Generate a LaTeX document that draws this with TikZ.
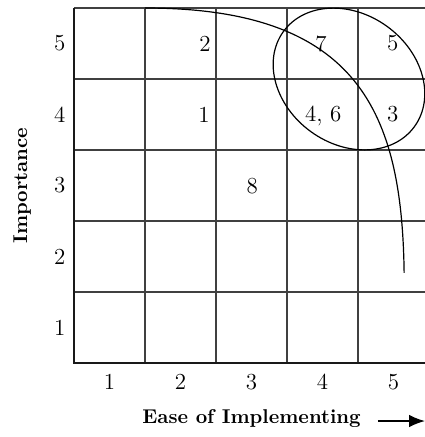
\documentclass[tikz,border=0pt]{standalone}
\usetikzlibrary{arrows.meta}

\begin{document}
\begin{tikzpicture}[x=1.25cm,y=1.25cm,
    gridline/.style={line width=0.6pt,black!75},
    axisline/.style={line width=1.1pt,black!90},
    score/.style={inner sep=0pt,font=\fontsize{11.5}{14}\selectfont}]
  \useasboundingbox (-1.042,-1.042) rectangle (4.944,5.113);
  % grid
  \foreach \i in {1,...,4}
    \draw[gridline] (\i,0) -- (\i,5);
  \foreach \j in {1,...,5}
    \draw[gridline] (0,\j) -- (4.944,\j);
  \draw[axisline] (0,5) -- (0,0) -- (4.944,0);
  % axis numbers
  \foreach \k in {1,...,5} {
    \node[score] (y\k) at (-0.2,\k-0.5) {\k};
    \node[score] (x\k) at (\k-0.5,-0.27) {\k};
  }
  \node[rotate=90,font=\bfseries] (ylab) at (-0.73,2.5) {Importance};
  \node[font=\bfseries] (xlab) at (2.5,-0.78) {Ease of Implementing};
  \coordinate (arrA) at (4.28,-0.817);
  \coordinate (arrB) at (4.944,-0.817);
  \draw[line width=0.8pt,-{Latex[length=2.8mm,width=2.2mm]}] (arrA) -- (arrB);
  % items
  \node[score] (n2) at (1.845,4.5) {2};
  \node[score] (n7) at (3.48,4.5) {7};
  \node[score] (n5) at (4.49,4.5) {5};
  \node[score] (n1) at (1.83,3.5) {1};
  \node[score] (n46) at (3.51,3.48) {4, 6};
  \node[score] (n3) at (4.49,3.5) {3};
  \node[score] (n8) at (2.51,2.49) {8};
  % grouping
  \draw[line width=0.6pt] (3.873,4.0) ellipse[x radius=1.14,y radius=0.915,rotate=-36];
  \draw[line width=0.6pt] (1,5) .. controls (4.03,5) and (4.62,3.5) .. (4.65,1.27);
\end{tikzpicture}
\end{document}
